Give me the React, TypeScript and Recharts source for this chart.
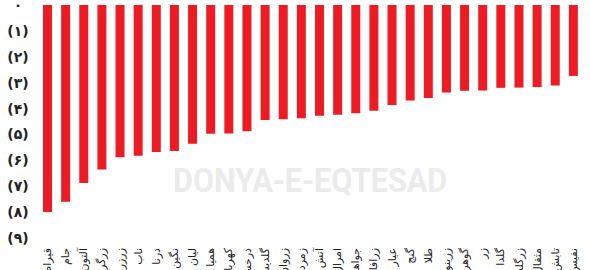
import React from 'react';
import { BarChart, Bar, XAxis, YAxis } from 'recharts';

const categories = ['قیراط','جام','آلتون','زرگر','زرزر','ناب','درنا','نگین','لیان','همیا','کهربا','درخش','گلدیس','زروان','زمرد','آتش','امرال','جواهر','زرافام','عیار','گنج','طلا','زرینو','گوهر','زر','گلدا','زرگلد','مثقال','تابش','نفیس'];
const values = [-8.0,-7.6,-6.88,-6.35,-5.88,-5.82,-5.68,-5.64,-5.36,-4.97,-4.96,-4.88,-4.44,-4.41,-4.37,-4.28,-4.24,-4.18,-4.08,-3.86,-3.69,-3.59,-3.38,-3.31,-3.3,-3.2,-3.19,-3.17,-3.11,-2.74];
const yTicks = [-9,-8,-7,-6,-5,-4,-3,-2,-1,0];
const faDigits = ['۰','۱','۲','۳','۴','۵','۶','۷','۸','۹'];

const data = categories.map((c, i) => ({ name: c, change: values[i] }));

const toFa = (n: number) => String(n).split('').map(d => faDigits[Number(d)] ?? d).join('');
const fmtY = (v: number) => (v === 0 ? '۰' : `(${toFa(-v)})`);

const YTick = (props: any) => {
  const { x, y, payload } = props;
  return (
    <text x={x - 12} y={y} dy={5} textAnchor="middle" fontSize={14} fontWeight={600} fill="#222" fontFamily="DejaVu Sans">
      {fmtY(payload.value)}
    </text>
  );
};

const XTick = (props: any) => {
  const { x, y, payload } = props;
  return (
    <text x={0} y={0} transform={`translate(${x + 4},${y + 2}) rotate(-90)`} textAnchor="end" fontSize={11} fill="#222" fontFamily="DejaVu Sans">
      {payload.value}
    </text>
  );
};

export default function App() {
  return (
    <div style={{ position: 'absolute', left: 0, top: 0, width: 590, height: 270, overflow: 'hidden', background: '#fff' }}>
      <div style={{ position: 'absolute', left: 173, top: 160, fontFamily: 'Roboto', fontWeight: 700, fontSize: 34, color: '#ebebeb', whiteSpace: 'nowrap', transform: 'scaleX(0.9)', transformOrigin: 'left top' }}>
        DONYA-E-EQTESAD
      </div>
      <div style={{ position: 'absolute', left: 0, top: 0 }}>
        <BarChart width={590} height={270} data={data} margin={{ top: 5, right: 8, bottom: 0, left: 0 }} barSize={9}>
          <XAxis dataKey="name" axisLine={false} tickLine={false} interval={0} height={32} tick={<XTick />} />
          <YAxis type="number" domain={[-9, 0]} ticks={yTicks} axisLine={false} tickLine={false} width={38} tick={<YTick />} interval={0} />
          <Bar dataKey="change" fill="#ED1C24" isAnimationActive={false} />
        </BarChart>
      </div>
    </div>
  );
}
